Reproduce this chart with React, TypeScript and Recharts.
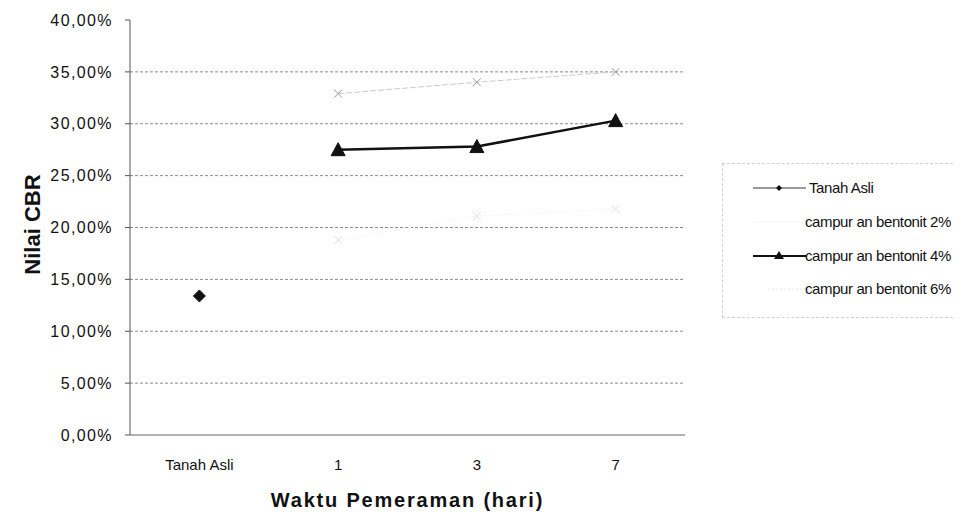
import { ComposedChart, Line, XAxis, YAxis, CartesianGrid, Legend, Label } from 'recharts';

// waktu pemeraman (hari)
const categories = ['Tanah Asli', '1', '3', '7'];
// nilai CBR (%)
const tanahAsli = [13.4, null, null, null];
const bentonit2 = [null, 32.9, 34.0, 35.0];
const bentonit4 = [null, 27.5, 27.8, 30.3];
const bentonit6 = [null, 18.8, 21.1, 21.8];
const yTicks = [0, 5, 10, 15, 20, 25, 30, 35, 40];
const gridValues = [5, 10, 15, 20, 25, 30, 35];

const seriesNames = ['Tanah Asli', 'campur an bentonit 2%', 'campur an bentonit 4%', 'campur an bentonit 6%'];

const data = categories.map((c, i) => ({
  cat: c,
  s0: tanahAsli[i],
  s2: bentonit2[i],
  s4: bentonit4[i],
  s6: bentonit6[i],
}));

const FONT = '"Liberation Sans", Arial, sans-serif';

function fmtPct(v: number) {
  return `${v.toFixed(2).replace('.', ',')}%`;
}

const Diamond = (props: any) => {
  const { cx, cy, value } = props;
  if (value == null || cx == null || cy == null) return <g key={props.key} />;
  return (
    <path
      key={props.key}
      d={`M${cx},${cy - 6} L${cx + 6},${cy} L${cx},${cy + 6} L${cx - 6},${cy} Z`}
      fill="#111"
      stroke="#111"
    />
  );
};

const Triangle = (props: any) => {
  const { cx, cy, value } = props;
  if (value == null || cx == null || cy == null) return <g key={props.key} />;
  return (
    <path
      key={props.key}
      d={`M${cx},${cy - 7} L${cx + 7},${cy + 6} L${cx - 7},${cy + 6} Z`}
      fill="#111"
      stroke="#111"
    />
  );
};

const Cross = (color: string) => (props: any) => {
  const { cx, cy, value } = props;
  if (value == null || cx == null || cy == null) return <g key={props.key} />;
  return (
    <path
      key={props.key}
      d={`M${cx - 4},${cy - 4} L${cx + 4},${cy + 4} M${cx - 4},${cy + 4} L${cx + 4},${cy - 4}`}
      stroke={color}
      strokeWidth={1}
      fill="none"
    />
  );
};

const LegendBox = () => {
  const rows = [24, 58, 92, 125];
  return (
    <div style={{ width: 236, height: 155, border: '1px dashed #d0d0d0', boxSizing: 'border-box' }}>
      <svg width={234} height={153}>
        {/* Tanah Asli */}
        <line x1={30} x2={83} y1={rows[0]} y2={rows[0]} stroke="#333" strokeWidth={1} />
        <path d={`M56,${rows[0] - 3} L59,${rows[0]} L56,${rows[0] + 3} L53,${rows[0]} Z`} fill="#111" />
        {/* 2% */}
        <line x1={30} x2={83} y1={rows[1]} y2={rows[1]} stroke="#f4f4f4" strokeWidth={1} />
        {/* 4% */}
        <line x1={30} x2={83} y1={rows[2]} y2={rows[2]} stroke="#111" strokeWidth={2} />
        <path d={`M56,${rows[2] - 5} L61,${rows[2] + 3} L51,${rows[2] + 3} Z`} fill="#111" />
        {/* 6% */}
        <line x1={45} x2={83} y1={rows[3]} y2={rows[3]} stroke="#e2e2e2" strokeWidth={1} strokeDasharray="2 2" />
        {seriesNames.map((n, i) => (
          <text
            key={n}
            x={i === 0 ? 86 : 82}
            y={rows[i] + 5}
            fontFamily={FONT}
            fontSize={15}
            fill="#111"
            letterSpacing={-0.4}
          >
            {n}
          </text>
        ))}
      </svg>
    </div>
  );
};

export default function App() {
  return (
    <div style={{ width: 947, height: 509, background: '#fff' }}>
      <ComposedChart
        width={947}
        height={509}
        data={data}
        margin={{ top: 12, right: 270, bottom: 10, left: 0 }}
      >
        <CartesianGrid
          vertical={false}
          horizontalValues={gridValues}
          stroke="#8a8a8a"
          strokeDasharray="3 2"
        />
        <XAxis
          dataKey="cat"
          scale="band"
          tickLine={false}
          tickSize={0}
          tickMargin={24}
          axisLine={{ stroke: '#666' }}
          tick={{ fill: '#111', fontSize: 15, fontFamily: FONT }}
          height={72}
          interval={0}
        >
          <Label
            content={(p: any) => {
              const vb = p.viewBox;
              return (
                <text
                  x={vb.x + vb.width / 2}
                  y={vb.y + 72}
                  textAnchor="middle"
                  fontFamily={FONT}
                  fontWeight="bold"
                  fontSize={20}
                  letterSpacing={1.8}
                  fill="#111"
                >
                  Waktu Pemeraman (hari)
                </text>
              );
            }}
          />
        </XAxis>
        <YAxis
          width={122}
          domain={[0, 40]}
          ticks={yTicks}
          interval={0}
          tickFormatter={fmtPct}
          tickSize={5}
          tickMargin={12}
          axisLine={{ stroke: '#555' }}
          tickLine={{ stroke: '#555' }}
          tick={{ fill: '#111', fontSize: 16, fontFamily: FONT, letterSpacing: 1.4 }}
        >
          <Label
            content={(p: any) => {
              const vb = p.viewBox;
              const cx = 24;
              const cy = vb.y + vb.height / 2 - 3;
              return (
                <text
                  x={cx}
                  y={cy}
                  transform={`rotate(-90 ${cx} ${cy})`}
                  textAnchor="middle"
                  dominantBaseline="central"
                  fontFamily={FONT}
                  fontWeight="bold"
                  fontSize={22}
                  fill="#111"
                >
                  Nilai CBR
                </text>
              );
            }}
          />
        </YAxis>
        <Legend
          layout="horizontal"
          verticalAlign="middle"
          align="center"
          wrapperStyle={{ position: 'absolute', left: 714, top: 155, width: 236, height: 155 }}
          content={() => <LegendBox />}
        />
        <Line
          dataKey="s0"
          name={seriesNames[0]}
          stroke="#111"
          strokeWidth={1}
          dot={Diamond}
          isAnimationActive={false}
        />
        <Line
          dataKey="s2"
          name={seriesNames[1]}
          stroke="#cccccc"
          strokeWidth={1}
          strokeDasharray="6 2"
          dot={Cross('#9a9a9a')}
          isAnimationActive={false}
        />
        <Line
          dataKey="s6"
          name={seriesNames[3]}
          stroke="#f2f2f2"
          strokeWidth={1}
          strokeDasharray="2 2"
          dot={Cross('#e0e0e0')}
          isAnimationActive={false}
        />
        <Line
          dataKey="s4"
          name={seriesNames[2]}
          stroke="#111"
          strokeWidth={2.5}
          dot={Triangle}
          isAnimationActive={false}
        />
      </ComposedChart>
    </div>
  );
}
